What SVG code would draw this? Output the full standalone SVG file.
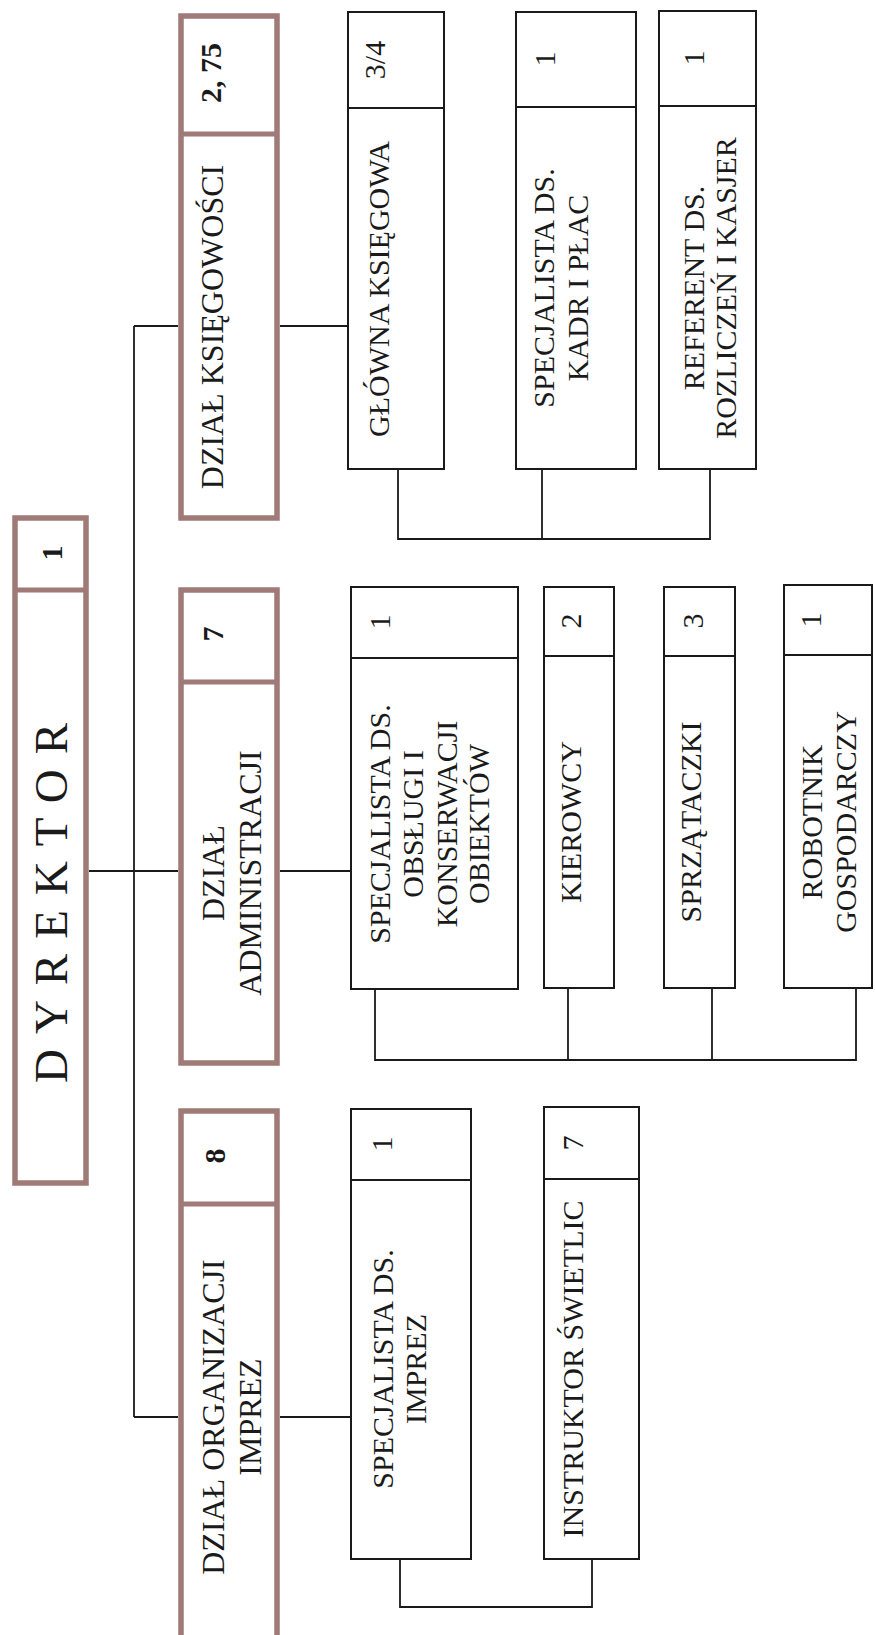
<svg xmlns="http://www.w3.org/2000/svg" width="875" height="1635" viewBox="0 0 875 1635">
<style>
.bg{fill:#ffffff}
.dept{fill:#ffffff;stroke:#a07a76;stroke-width:5.5}
.ddiv{stroke:#a07a76;stroke-width:5}
.box{fill:#ffffff;stroke:#1a1a1a;stroke-width:2}
.bdiv{stroke:#1a1a1a;stroke-width:2}
.con{fill:none;stroke:#1a1a1a;stroke-width:1.8}
text{font-family:"Liberation Serif","Times New Roman",serif;fill:#1a1a1a;text-anchor:middle}
.t31{font-size:32px}
.t29{font-size:30px}
.n{font-size:30px;font-weight:bold}
.d{font-size:47px}
</style>
<rect class="bg" x="0" y="0" width="875" height="1635"/>
<g id="connectors">
<path class="con" d="M134 326 V1417"/>
<path class="con" d="M134 326 H178"/>
<path class="con" d="M134 1417 H178"/>
<path class="con" d="M89 871 H178"/>
<path class="con" d="M280 326 H347"/>
<path class="con" d="M280 871 H350"/>
<path class="con" d="M280 1417 H350"/>
<path class="con" d="M398 470 V539 H710 V470"/>
<path class="con" d="M542 470 V539"/>
<path class="con" d="M375 990 V1060 H856 V989"/>
<path class="con" d="M568 989 V1060"/>
<path class="con" d="M712 989 V1060"/>
<path class="con" d="M400 1560 V1607 H592 V1560"/>
</g>
<g id="dyrektor">
<rect class="dept" x="15" y="518" width="71" height="665"/>
<line class="ddiv" x1="15" y1="590" x2="86" y2="590"/>
<text class="n" transform="translate(62,553) rotate(-90)">1</text>
<text class="d" transform="translate(67,903) rotate(-90)" textLength="360" lengthAdjust="spacing">DYREKTOR</text>
</g>
<g id="dzial-ksiegowosci">
<rect class="dept" x="181" y="16" width="96" height="502"/>
<line class="ddiv" x1="181" y1="134" x2="277" y2="134"/>
<text class="n" transform="translate(221,73) rotate(-90)">2, 75</text>
<text class="t31" transform="translate(223,327) rotate(-90)">DZIAŁ KSIĘGOWOŚCI</text>
</g>
<g id="glowna-ksiegowa">
<rect class="box" x="348" y="12" width="96" height="457"/>
<line class="bdiv" x1="348" y1="108" x2="444" y2="108"/>
<text class="t29" transform="translate(385,60) rotate(-90)">3/4</text>
<text class="t29" transform="translate(389,289) rotate(-90)">GŁÓWNA KSIĘGOWA</text>
</g>
<g id="specjalista-kadr">
<rect class="box" x="516" y="12" width="120" height="457"/>
<line class="bdiv" x1="516" y1="107" x2="636" y2="107"/>
<text class="t29" transform="translate(555,59) rotate(-90)">1</text>
<text class="t29" transform="translate(554,288) rotate(-90)">SPECJALISTA DS.</text>
<text class="t29" transform="translate(588,288) rotate(-90)">KADR I PŁAC</text>
</g>
<g id="referent">
<rect class="box" x="659" y="11" width="97" height="458"/>
<line class="bdiv" x1="659" y1="106" x2="756" y2="106"/>
<text class="t29" transform="translate(704,58) rotate(-90)">1</text>
<text class="t29" transform="translate(704,288) rotate(-90)">REFERENT DS.</text>
<text class="t29" transform="translate(736,288) rotate(-90)">ROZLICZEŃ I KASJER</text>
</g>
<g id="dzial-administracji">
<rect class="dept" x="181" y="590" width="96" height="473"/>
<line class="ddiv" x1="181" y1="682" x2="277" y2="682"/>
<text class="n" transform="translate(223,634) rotate(-90)">7</text>
<text class="t31" transform="translate(224,873) rotate(-90)">DZIAŁ</text>
<text class="t31" transform="translate(261,873) rotate(-90)">ADMINISTRACJI</text>
</g>
<g id="specjalista-obiektow">
<rect class="box" x="351" y="587" width="167" height="402"/>
<line class="bdiv" x1="351" y1="658" x2="518" y2="658"/>
<text class="t29" transform="translate(390,622) rotate(-90)">1</text>
<text class="t29" transform="translate(390,824) rotate(-90)">SPECJALISTA DS.</text>
<text class="t29" transform="translate(423,824) rotate(-90)">OBSŁUGI I</text>
<text class="t29" transform="translate(457,824) rotate(-90)">KONSERWACJI</text>
<text class="t29" transform="translate(489,824) rotate(-90)">OBIEKTÓW</text>
</g>
<g id="kierowcy">
<rect class="box" x="544" y="587" width="70" height="401"/>
<line class="bdiv" x1="544" y1="656" x2="614" y2="656"/>
<text class="t29" transform="translate(581,621) rotate(-90)">2</text>
<text class="t29" transform="translate(581,822) rotate(-90)">KIEROWCY</text>
</g>
<g id="sprzataczki">
<rect class="box" x="664" y="587" width="71" height="401"/>
<line class="bdiv" x1="664" y1="656" x2="735" y2="656"/>
<text class="t29" transform="translate(703,621) rotate(-90)">3</text>
<text class="t29" transform="translate(701,822) rotate(-90)">SPRZĄTACZKI</text>
</g>
<g id="robotnik">
<rect class="box" x="784" y="585" width="88" height="403"/>
<line class="bdiv" x1="784" y1="655" x2="872" y2="655"/>
<text class="t29" transform="translate(821,620) rotate(-90)">1</text>
<text class="t29" transform="translate(822,822) rotate(-90)">ROBOTNIK</text>
<text class="t29" transform="translate(856,822) rotate(-90)">GOSPODARCZY</text>
</g>
<g id="dzial-organizacji-imprez">
<rect class="dept" x="181" y="1111" width="96" height="540"/>
<line class="ddiv" x1="181" y1="1204" x2="277" y2="1204"/>
<text class="n" transform="translate(225,1156) rotate(-90)">8</text>
<text class="t31" transform="translate(224,1417) rotate(-90)">DZIAŁ ORGANIZACJI</text>
<text class="t31" transform="translate(261,1417) rotate(-90)">IMPREZ</text>
</g>
<g id="specjalista-imprez">
<rect class="box" x="351" y="1109" width="120" height="450"/>
<line class="bdiv" x1="351" y1="1180" x2="471" y2="1180"/>
<text class="t29" transform="translate(392,1144) rotate(-90)">1</text>
<text class="t29" transform="translate(393,1369) rotate(-90)">SPECJALISTA DS.</text>
<text class="t29" transform="translate(426,1369) rotate(-90)">IMPREZ</text>
</g>
<g id="instruktor-swietlic">
<rect class="box" x="544" y="1107" width="95" height="452"/>
<line class="bdiv" x1="544" y1="1179" x2="639" y2="1179"/>
<text class="t29" transform="translate(583,1143) rotate(-90)">7</text>
<text class="t29" transform="translate(583,1369) rotate(-90)">INSTRUKTOR ŚWIETLIC</text>
</g>
</svg>
